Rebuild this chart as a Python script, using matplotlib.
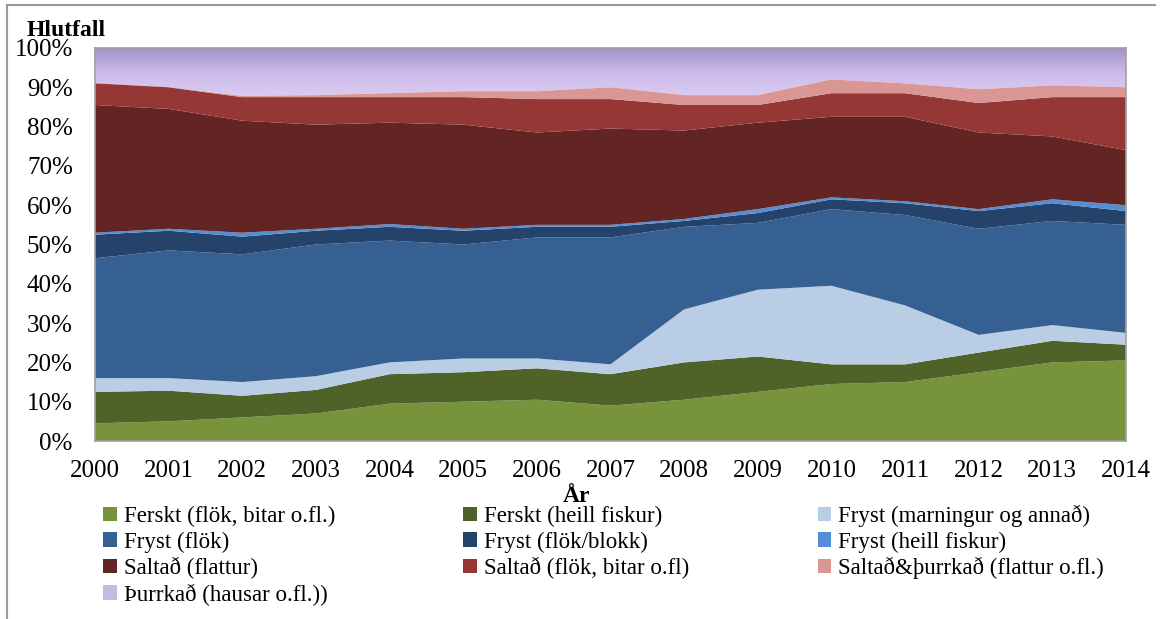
import numpy as np
import matplotlib
matplotlib.use("Agg")
import matplotlib.pyplot as plt
from matplotlib.patches import Rectangle
from matplotlib.lines import Line2D
from matplotlib.colors import LinearSegmentedColormap

years = [2000, 2001, 2002, 2003, 2004, 2005, 2006, 2007, 2008, 2009, 2010, 2011, 2012, 2013, 2014]

ferskt_flok   = [4.5, 5.0, 6.0, 7.0, 9.5, 10.0, 10.5, 9.0, 10.5, 12.5, 14.5, 15.0, 17.5, 20.0, 20.5]
ferskt_heill  = [8.0, 7.8, 5.5, 6.0, 7.5, 7.5, 8.0, 8.0, 9.5, 9.0, 5.0, 4.5, 5.0, 5.5, 4.0]
fryst_marn    = [3.5, 3.2, 3.5, 3.5, 3.0, 3.5, 2.5, 2.5, 13.5, 17.0, 20.0, 15.0, 4.5, 4.0, 3.0]
fryst_flok    = [30.5, 32.5, 32.5, 33.5, 31.0, 29.0, 30.8, 32.3, 21.0, 17.0, 19.5, 23.0, 27.0, 26.5, 27.5]
fryst_blokk   = [6.0, 5.0, 4.5, 3.5, 3.5, 3.5, 2.7, 2.7, 1.5, 2.5, 2.5, 3.0, 4.5, 4.5, 3.5]
fryst_heill   = [0.5, 0.5, 1.0, 0.5, 0.7, 0.5, 0.5, 0.5, 0.5, 1.0, 0.5, 0.5, 0.5, 1.0, 1.5]
saltad_flatt  = [32.5, 30.5, 28.5, 26.5, 25.8, 26.5, 23.5, 24.5, 22.5, 22.0, 20.5, 21.5, 19.5, 16.0, 14.0]
saltad_flok   = [5.5, 5.5, 6.0, 7.0, 6.5, 7.0, 8.5, 7.5, 6.5, 4.5, 6.0, 6.0, 7.5, 10.0, 13.5]
saltad_thurr  = [0.0, 0.0, 0.3, 0.5, 1.0, 1.5, 2.0, 3.0, 2.5, 2.5, 3.5, 2.5, 3.5, 3.0, 2.5]
thurrkad      = [9.0, 10.0, 12.2, 12.0, 11.5, 11.0, 11.0, 10.0, 12.0, 12.0, 8.0, 9.0, 10.5, 9.5, 10.0]

labels = ["Ferskt (flök, bitar o.fl.)", "Ferskt (heill fiskur)", "Fryst (marningur og annað)",
          "Fryst (flök)", "Fryst (flök/blokk)", "Fryst (heill fiskur)",
          "Saltað (flattur)", "Saltað (flök, bitar o.fl)", "Saltað&þurrkað (flattur o.fl.)",
          "Þurrkað (hausar o.fl.))"]
series = [ferskt_flok, ferskt_heill, fryst_marn, fryst_flok, fryst_blokk, fryst_heill,
          saltad_flatt, saltad_flok, saltad_thurr, thurrkad]
colors = ["#77933c", "#4f6228", "#b9cde5", "#376092", "#24426a", "#558ed5",
          "#632523", "#953735", "#d99694", "#c9b8e4"]

plt.rcParams['font.family'] = ['Liberation Serif', 'DejaVu Serif']

fig = plt.figure(figsize=(11.61, 6.19), dpi=100)
ax = fig.add_axes([95 / 1161, 1 - 441 / 619, (1126 - 95) / 1161, (441 - 48) / 619])

x = np.array(years, dtype=float)
data = np.array(series, dtype=float)
totals = data.sum(axis=0)
pct = data / totals * 100.0
cum = np.cumsum(pct, axis=0)
base = np.zeros_like(x)
handles = []
for i in range(len(series)):
    top = cum[i]
    if i == len(series) - 1:
        poly = ax.fill_between(x, base, top, facecolor='none', linewidth=0)
        cmap = LinearSegmentedColormap.from_list('pg', ['#dccdf2', '#cdbcea', '#9f8fc5'])
        grad = np.linspace(0, 1, 256).reshape(-1, 1)
        im = ax.imshow(grad, aspect='auto', cmap=cmap, extent=[2000, 2014, 100, 87],
                       origin='upper', zorder=1)
        im.set_clip_path(poly.get_paths()[0], transform=ax.transData)
        handles.append(Rectangle((0, 0), 1, 1, facecolor=colors[i]))
    else:
        poly = ax.fill_between(x, base, top, facecolor=colors[i], linewidth=0, zorder=2)
        handles.append(poly)
    base = top

ax.set_xlim(2000, 2014)
ax.set_ylim(0, 100)
ax.set_xticks(years)
ax.set_xticklabels([str(y) for y in years], fontsize=18)
ax.set_yticks(range(0, 101, 10))
ax.set_yticklabels([f"{v}%" for v in range(0, 101, 10)], fontsize=18)
ax.tick_params(axis='x', length=0, pad=14)
ax.tick_params(axis='y', length=0, pad=16)
for s in ax.spines.values():
    s.set_color('#a0a0a0')
    s.set_linewidth(1.2)

fig.text(577 / 1161, 1 - 497 / 619, "År", fontsize=17, fontweight='bold', ha='center', va='center')
fig.text(27 / 1161, 1 - 30 / 619, "Hlutfall", fontsize=17, fontweight='bold', ha='left', va='center')

order = [0, 3, 6, 9, 1, 4, 7, 2, 5, 8]
leg = fig.legend([handles[i] for i in order], [labels[i] for i in order],
                 loc='upper left', bbox_to_anchor=(103 / 1161, 1 - 505 / 619), ncol=3, frameon=False,
                 fontsize=16.5, handlelength=0.6, handleheight=0.6, handletextpad=0.3,
                 columnspacing=5.6, labelspacing=0.19, borderpad=0, borderaxespad=0)

fig.add_artist(Line2D([7 / 1161, 7 / 1161], [0, 1 - 5 / 619], transform=fig.transFigure,
                      color='#999999', linewidth=1.5))
fig.add_artist(Line2D([7 / 1161, 1155 / 1161], [1 - 5 / 619, 1 - 5 / 619], transform=fig.transFigure,
                      color='#999999', linewidth=1.5))

fig.savefig("out.png", dpi=100)
